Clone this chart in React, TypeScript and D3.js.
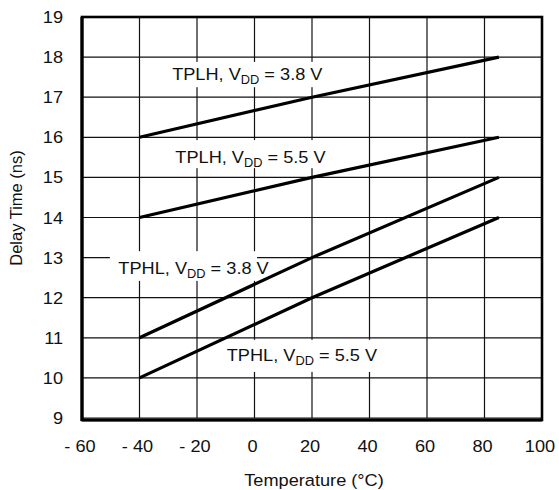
import React, { useEffect, useRef } from 'react';
import * as d3 from 'd3';

// curve data (x = temperature, y = delay)
const temps = [-40, 20, 85];
const tplh38 = [16, 17, 18];
const tplh55 = [14, 15, 16];
const tphl38 = [11, 13, 15];
const tphl55 = [10, 12, 14];

const xTicks = [-60, -40, -20, 0, 20, 40, 60, 80, 100];
const xTickLabels = ['- 60', '- 40', '- 20', '0', '20', '40', '60', '80', '100'];
const yTicks = [9, 10, 11, 12, 13, 14, 15, 16, 17, 18, 19];

// label: name, vdd, centre (temp, delay), white box [t0, t1, d0, d1]
const labelNames = ['TPLH', 'TPLH', 'TPHL', 'TPHL'];
const labelVdd = ['3.8', '5.5', '3.8', '5.5'];
const labelAt: [number, number][] = [
  [-2.5, 17.57],
  [-1.4, 15.52],
  [-21.2, 12.75],
  [16.5, 10.56],
];
const labelBox: [number, number, number, number][] = [
  [-32, 27, 17.25, 17.88],
  [-30, 27.5, 15.23, 15.93],
  [-50.3, 0.9, 12.42, 13.16],
  [-12, 45.4, 10.15, 10.95],
];

const FONT = '"Liberation Sans", Arial, Helvetica, sans-serif';
const SX = 1.07; // the scan is a little wider than tall

export default function App() {
  const ref = useRef<SVGSVGElement>(null);

  useEffect(() => {
    const svg = d3.select(ref.current);
    svg.selectAll('*').remove();

    const x = d3.scaleLinear().domain([-60, 100]).range([82, 542]);
    const y = d3.scaleLinear().domain([9, 19]).range([418, 17]);

    // grid
    const grid = svg.append('g').attr('stroke', '#111').attr('stroke-width', 1.2);
    xTicks.forEach((t) => {
      grid
        .append('line')
        .attr('x1', x(t))
        .attr('x2', x(t))
        .attr('y1', y(9))
        .attr('y2', y(19));
    });
    yTicks.forEach((t) => {
      grid
        .append('line')
        .attr('x1', x(-60))
        .attr('x2', x(100))
        .attr('y1', y(t))
        .attr('y2', y(t));
    });

    // white boxes behind the curve labels
    labelBox.forEach(([t0, t1, d0, d1]) => {
      svg
        .append('rect')
        .attr('x', x(t0))
        .attr('y', y(d1))
        .attr('width', x(t1) - x(t0))
        .attr('height', y(d0) - y(d1))
        .attr('fill', '#fff');
    });

    // curves
    const line = d3
      .line<number>()
      .x((_, i) => x(temps[i]))
      .y((d) => y(d));
    [tplh38, tplh55, tphl38, tphl55].forEach((s) => {
      svg
        .append('path')
        .datum(s)
        .attr('fill', 'none')
        .attr('stroke', '#000')
        .attr('stroke-width', 3.2)
        .attr('d', line);
    });

    // curve labels
    labelNames.forEach((name, i) => {
      const [t, d] = labelAt[i];
      const txt = svg
        .append('text')
        .attr('transform', `translate(${x(t)},${y(d) + 6}) scale(${SX},1)`)
        .attr('text-anchor', 'middle')
        .attr('font-family', FONT)
        .attr('font-size', 17)
        .attr('fill', '#111');
      txt.append('tspan').text(`${name}, V`);
      txt.append('tspan').attr('font-size', 12).attr('dy', 4).text('DD');
      txt.append('tspan').attr('dy', -4).text(` = ${labelVdd[i]} V`);
    });

    // frame
    svg
      .append('rect')
      .attr('x', x(-60))
      .attr('y', y(19))
      .attr('width', x(100) - x(-60))
      .attr('height', y(9) - y(19) + 2)
      .attr('fill', 'none')
      .attr('stroke', '#000')
      .attr('stroke-width', 2.6);
    svg
      .append('line')
      .attr('x1', x(-60))
      .attr('x2', x(100))
      .attr('y1', y(9) + 2)
      .attr('y2', y(9) + 2)
      .attr('stroke', '#000')
      .attr('stroke-width', 3.2);
    svg
      .append('line')
      .attr('x1', x(-60))
      .attr('x2', x(-60))
      .attr('y1', y(19))
      .attr('y2', y(9) + 3)
      .attr('stroke', '#000')
      .attr('stroke-width', 3.2);

    // tick labels
    yTicks.forEach((t) => {
      svg
        .append('text')
        .attr('transform', `translate(63,${y(t) + 6}) scale(${SX},1)`)
        .attr('text-anchor', 'end')
        .attr('font-family', FONT)
        .attr('font-size', 17)
        .attr('fill', '#111')
        .text(t);
    });
    xTicks.forEach((t, i) => {
      svg
        .append('text')
        .attr('transform', `translate(${x(t) - 2},452) scale(${SX},1)`)
        .attr('text-anchor', 'middle')
        .attr('font-family', FONT)
        .attr('font-size', 17)
        .attr('fill', '#111')
        .text(xTickLabels[i]);
    });

    // axis titles
    svg
      .append('text')
      .attr('transform', `translate(${(x(-60) + x(100)) / 2 + 2},486) scale(${SX},1)`)
      .attr('text-anchor', 'middle')
      .attr('font-family', FONT)
      .attr('font-size', 17)
      .attr('fill', '#111')
      .text('Temperature (°C)');
    svg
      .append('text')
      .attr('transform', 'translate(22,208) rotate(-90)')
      .attr('text-anchor', 'middle')
      .attr('font-family', FONT)
      .attr('font-size', 16.5)
      .attr('fill', '#111')
      .text('Delay Time (ns)');
  }, []);

  return (
    <svg
      ref={ref}
      width={559}
      height={490}
      style={{ position: 'absolute', left: 0, top: 0, background: '#fff' }}
    />
  );
}
